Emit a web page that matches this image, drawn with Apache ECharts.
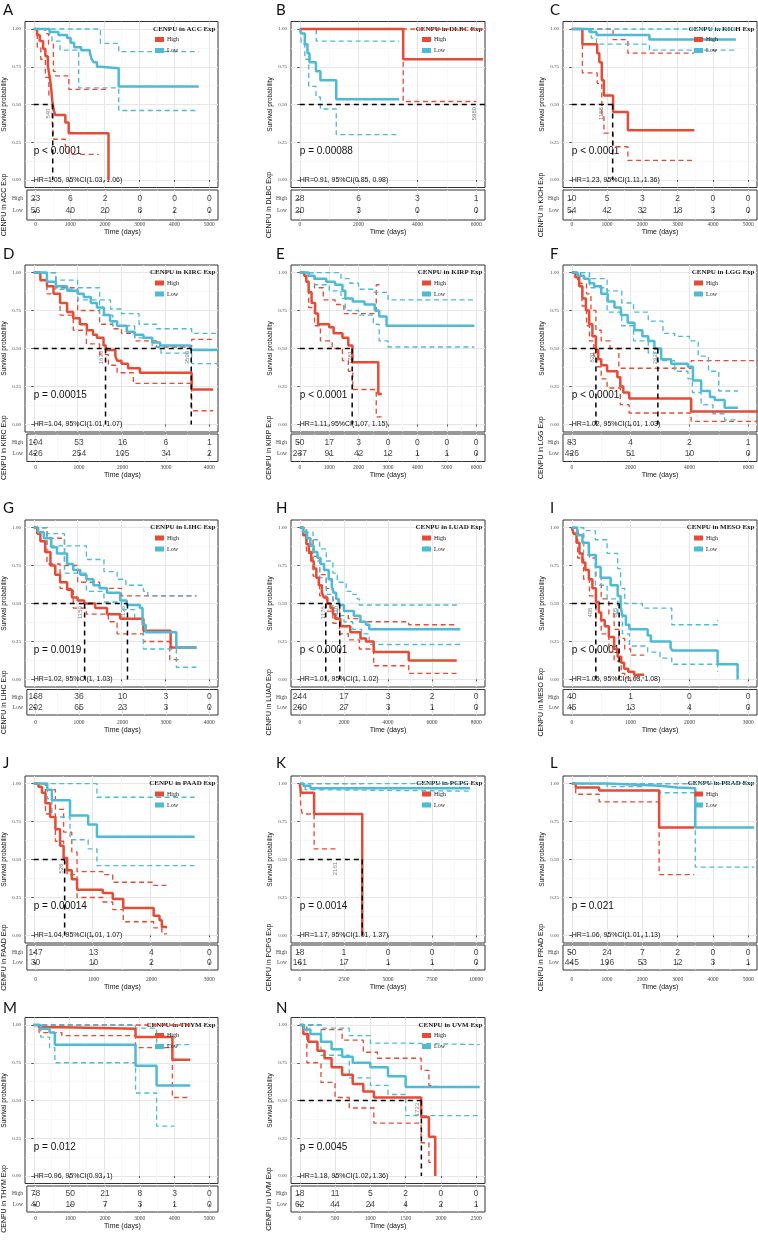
<!DOCTYPE html>
<html><head><meta charset="utf-8">
<script src="https://cdn.jsdelivr.net/npm/echarts@6/dist/echarts.min.js"></script>
<style>html,body{margin:0;padding:0;background:#fff}#c{width:758px;height:1251px}</style>
</head><body><div id="c"></div>
<script>
const RED = '#E64B35', BLUE = '#4DBBD5';

// ===== A: ACC =====
const ACC_ticks = [0,1000,2000,3000,4000,5000];
const ACC_high = [[0,1],[95,0.96],[170,0.92],[265,0.87],[330,0.82],[400,0.76],[455,0.68],[490,0.62],[530,0.52],[570,0.46],[615,0.43],[900,0.38],[995,0.31],[2130,0]];
const ACC_low = [[0,1],[450,0.98],[700,0.96],[950,0.94],[1050,0.91],[1150,0.88],[1350,0.86],[1600,0.84],[1650,0.8],[1700,0.78],[1800,0.75],[1900,0.74],[2420,0.62],[4700,0.62]];
const ACC_highUp = [[0,1],[330,0.97],[420,0.9],[560,0.72],[620,0.69],[1000,0.6],[2130,0.6]];
const ACC_highLo = [[0,1],[100,0.88],[200,0.8],[330,0.68],[430,0.55],[520,0.4],[570,0.27],[900,0.22],[1000,0.17],[1850,0.17]];
const ACC_lowUp = [[0,1],[1800,1],[1900,0.905],[2420,0.85],[4700,0.85]];
const ACC_lowLo = [[0,1],[450,0.95],[520,0.92],[750,0.86],[1280,0.61],[2420,0.46],[4700,0.46]];
const ACC_riskHigh = [23,6,2,0,0,0];
const ACC_riskLow = [56,40,20,8,2,0];
const ACC_medians = [540];
const ACC_medianLabels = ['540'];
const ACC_p = 'p < 0.0001';
const ACC_hr = 'HR=1.05, 95%CI(1.03, 1.06)';

// ===== B: DLBC =====
const DLBC_ticks = [0,2000,4000,6000];
const DLBC_high = [[0,1],[3517,0.8],[6230,0.8]];
const DLBC_low = [[0,1],[60,0.97],[170,0.9],[260,0.84],[330,0.78],[550,0.72],[700,0.66],[1240,0.535],[3380,0.535]];
const DLBC_highUp = [[0,1],[6230,1]];
const DLBC_highLo = [[0,1],[3517,0.52],[6000,0.52]];
const DLBC_lowUp = [[0,1],[560,0.92],[3380,0.92]];
const DLBC_lowLo = [[0,1],[60,0.9],[170,0.8],[300,0.62],[550,0.55],[700,0.47],[1240,0.3],[3380,0.3]];
const DLBC_riskHigh = [28,6,3,1];
const DLBC_riskLow = [20,3,0,0];
const DLBC_medians = [5980];
const DLBC_medianLabels = ['5980'];
const DLBC_p = 'p = 0.00088';
const DLBC_hr = 'HR=0.91, 95%CI(0.85, 0.98)';

// ===== C: KICH =====
const KICH_ticks = [0,1000,2000,3000,4000,5000];
const KICH_high = [[0,1],[300,0.9],[720,0.84],[780,0.78],[850,0.66],[910,0.56],[1170,0.45],[1590,0.33],[3475,0.33]];
const KICH_low = [[0,1],[500,0.98],[700,0.96],[2200,0.93],[4650,0.93]];
const KICH_highUp = [[0,1],[1170,0.93],[1590,0.84],[3475,0.84]];
const KICH_highLo = [[0,1],[300,0.71],[720,0.64],[850,0.42],[910,0.31],[1170,0.22],[1590,0.13],[3475,0.13]];
const KICH_lowUp = [[0,1],[4650,1]];
const KICH_lowLo = [[0,1],[550,0.94],[700,0.9],[2200,0.86],[4650,0.86]];
const KICH_riskHigh = [10,5,3,2,0,0];
const KICH_riskLow = [54,42,32,18,3,0];
const KICH_medians = [1158];
const KICH_medianLabels = ['1158'];
const KICH_p = 'p < 0.0001';
const KICH_hr = 'HR=1.23, 95%CI(1.11, 1.36)';

// ===== D: KIRC =====
const KIRC_ticks = [0,1000,2000,3000,4000];
const KIRC_high = [[0,1],[150,0.95],[300,0.91],[450,0.86],[600,0.8],[760,0.74],[900,0.7],[1050,0.66],[1210,0.62],[1350,0.59],[1440,0.57],[1590,0.52],[1640,0.49],[1860,0.45],[1900,0.42],[2000,0.4],[2150,0.37],[2420,0.34],[3600,0.23],[4090,0.23]];
const KIRC_low = [[0,1],[300,0.94],[500,0.91],[760,0.88],[1000,0.86],[1140,0.84],[1300,0.8],[1440,0.77],[1600,0.72],[1740,0.68],[1900,0.65],[2120,0.61],[2300,0.59],[2500,0.57],[2700,0.54],[2880,0.52],[3560,0.51],[3590,0.49],[4200,0.49]];
const KIRC_highUp = [[0,1],[500,0.9],[1000,0.75],[1500,0.66],[1800,0.63],[2000,0.6],[2300,0.55],[2800,0.51],[3600,0.56],[4090,0.56]];
const KIRC_highLo = [[0,1],[300,0.86],[600,0.72],[900,0.62],[1200,0.53],[1500,0.46],[1700,0.39],[1900,0.34],[2270,0.27],[3600,0.09],[4090,0.09]];
const KIRC_lowUp = [[0,1],[500,0.95],[1000,0.9],[1500,0.82],[1750,0.76],[2000,0.73],[2400,0.66],[2800,0.63],[3600,0.6],[4200,0.6]];
const KIRC_lowLo = [[0,1],[500,0.89],[1000,0.82],[1500,0.72],[1800,0.65],[2300,0.57],[2700,0.51],[2900,0.47],[3600,0.4],[4200,0.4]];
const KIRC_riskHigh = [104,53,16,6,1];
const KIRC_riskLow = [426,254,105,34,2];
const KIRC_medians = [1636,3590];
const KIRC_medianLabels = ['1636','3590'];
const KIRC_p = 'p = 0.00015';
const KIRC_hr = 'HR=1.04, 95%CI(1.01, 1.07)';

// ===== E: KIRP =====
const KIRP_ticks = [0,1000,2000,3000,4000,5000,6000];
const KIRP_high = [[0,1],[150,0.98],[220,0.94],[300,0.87],[400,0.8],[520,0.73],[620,0.66],[1000,0.64],[1150,0.6],[1450,0.57],[1650,0.52],[1790,0.41],[2670,0.2],[2790,0.2]];
const KIRP_low = [[0,1],[300,0.98],[500,0.96],[900,0.94],[1200,0.92],[1450,0.88],[1550,0.83],[1800,0.81],[2200,0.79],[2550,0.75],[2700,0.71],[2950,0.65],[5940,0.65]];
const KIRP_highUp = [[0,1],[500,0.9],[800,0.82],[1200,0.79],[1500,0.73],[2600,0.92],[2790,0.92]];
const KIRP_highLo = [[0,1],[300,0.77],[500,0.65],[700,0.55],[1100,0.5],[1450,0.42],[1650,0.35],[1800,0.23],[2600,0.05],[2790,0.05]];
const KIRP_lowUp = [[0,1],[800,1],[1400,0.96],[1700,0.93],[2000,0.89],[2500,0.87],[3000,0.82],[5940,0.82]];
const KIRP_lowLo = [[0,1],[500,0.92],[1000,0.88],[1400,0.83],[1550,0.75],[2000,0.72],[2500,0.66],[2700,0.55],[3000,0.51],[5940,0.51]];
const KIRP_riskHigh = [50,17,3,0,0,0,0];
const KIRP_riskLow = [237,91,42,12,1,1,0];
const KIRP_medians = [1781];
const KIRP_medianLabels = ['1781'];
const KIRP_p = 'p < 0.0001';
const KIRP_hr = 'HR=1.11, 95%CI(1.07, 1.15)';

// ===== F: LGG =====
const LGG_ticks = [0,2000,4000,6000];
const LGG_high = [[0,1],[120,0.97],[250,0.91],[360,0.83],[480,0.75],[590,0.66],[700,0.58],[820,0.49],[900,0.43],[1000,0.39],[1200,0.35],[1550,0.31],[1650,0.25],[1750,0.21],[1950,0.17],[4060,0.085],[6350,0.085]];
const LGG_low = [[0,1],[200,0.98],[420,0.96],[600,0.93],[760,0.91],[1000,0.86],[1220,0.81],[1450,0.77],[1670,0.72],[1900,0.67],[2130,0.62],[2400,0.58],[2600,0.55],[2810,0.5],[3040,0.43],[3380,0.4],[3950,0.38],[4120,0.29],[4400,0.22],[4700,0.18],[4860,0.16],[5200,0.11],[5650,0.11]];
const LGG_highUp = [[0,1],[300,0.96],[500,0.86],[650,0.75],[820,0.62],[1000,0.55],[1300,0.5],[1600,0.37],[4060,0.42],[6350,0.42]];
const LGG_highLo = [[0,1],[200,0.93],[350,0.78],[500,0.65],[600,0.55],[750,0.45],[850,0.38],[1000,0.3],[1200,0.24],[1650,0.13],[1950,0.075],[4060,0.02],[6350,0.02]];
const LGG_lowUp = [[0,1],[600,0.96],[1200,0.88],[1700,0.8],[2100,0.74],[2600,0.68],[3100,0.6],[3500,0.58],[4000,0.55],[4300,0.45],[4650,0.35],[5000,0.22],[5650,0.22]];
const LGG_lowLo = [[0,1],[600,0.9],[1200,0.74],[1700,0.65],[2100,0.55],[2600,0.47],[2900,0.42],[3500,0.35],[3950,0.3],[4100,0.21],[4400,0.13],[4800,0.07],[5200,0.03],[5650,0.03]];
const LGG_riskHigh = [83,4,2,1];
const LGG_riskLow = [426,51,10,0];
const LGG_medians = [820,2927];
const LGG_medianLabels = ['820','2927'];
const LGG_p = 'p < 0.0001';
const LGG_hr = 'HR=1.02, 95%CI(1.01, 1.03)';

// ===== G: LIHC =====
const LIHC_ticks = [0,1000,2000,3000,4000];
const LIHC_high = [[0,1],[80,0.96],[150,0.91],[260,0.84],[380,0.75],[490,0.69],[600,0.64],[760,0.59],[870,0.54],[1000,0.52],[1150,0.5],[1400,0.47],[1670,0.43],[1970,0.4],[2500,0.32],[3120,0.21],[3710,0.21]];
const LIHC_low = [[0,1],[100,0.97],[230,0.93],[400,0.87],[530,0.83],[760,0.76],[900,0.72],[1060,0.69],[1200,0.66],[1360,0.62],[1500,0.6],[1670,0.57],[1970,0.52],[2120,0.49],[2420,0.47],[2480,0.36],[2550,0.31],[3250,0.21],[3710,0.21]];
const LIHC_highUp = [[0,1],[300,0.93],[700,0.75],[1000,0.64],[1500,0.6],[2000,0.55],[2500,0.55],[3710,0.55]];
const LIHC_highLo = [[0,1],[300,0.76],[600,0.6],[900,0.47],[1200,0.43],[1700,0.38],[1900,0.3],[2200,0.3],[2500,0.25],[3100,0.13],[3300,0.13]];
const LIHC_lowUp = [[0,1],[300,0.96],[700,0.88],[1200,0.79],[1600,0.71],[1900,0.66],[2100,0.62],[2500,0.58],[2600,0.55],[3710,0.55]];
const LIHC_lowLo = [[0,1],[300,0.88],[700,0.7],[1200,0.58],[1600,0.51],[2000,0.46],[2300,0.4],[2500,0.2],[3250,0.08],[3710,0.08]];
const LIHC_riskHigh = [168,36,10,3,0];
const LIHC_riskLow = [202,65,23,3,0];
const LIHC_medians = [1159,2136];
const LIHC_medianLabels = ['1159','2136'];
const LIHC_p = 'p = 0.0019';
const LIHC_hr = 'HR=1.02, 95%CI(1, 1.03)';

// ===== H: LUAD =====
const LUAD_ticks = [0,2000,4000,6000,8000];
const LUAD_high = [[0,1],[150,0.95],[300,0.89],[410,0.84],[520,0.78],[630,0.73],[750,0.67],[860,0.62],[1000,0.57],[1090,0.54],[1250,0.5],[1390,0.47],[1500,0.43],[1610,0.4],[1840,0.35],[2290,0.31],[2750,0.27],[3000,0.25],[3350,0.18],[4940,0.125],[7120,0.125]];
const LUAD_low = [[0,1],[150,0.97],[330,0.93],[480,0.88],[630,0.84],[800,0.8],[940,0.76],[1100,0.72],[1310,0.66],[1450,0.61],[1540,0.57],[1650,0.53],[1770,0.49],[2000,0.45],[2450,0.42],[2750,0.38],[3000,0.36],[3150,0.33],[7280,0.33]];
const LUAD_highUp = [[0,1],[300,0.93],[600,0.81],[900,0.69],[1200,0.6],[1500,0.52],[1800,0.45],[2200,0.4],[2700,0.38],[4940,0.36],[7120,0.36]];
const LUAD_highLo = [[0,1],[300,0.83],[600,0.68],[900,0.55],[1200,0.45],[1500,0.37],[1800,0.3],[2200,0.26],[2700,0.2],[3350,0.09],[4940,0.04],[7120,0.04]];
const LUAD_lowUp = [[0,1],[300,0.97],[600,0.92],[900,0.86],[1200,0.78],[1500,0.7],[1700,0.64],[2100,0.58],[2400,0.56],[2600,0.53],[2700,0.49],[7280,0.49]];
const LUAD_lowLo = [[0,1],[300,0.89],[600,0.78],[900,0.67],[1200,0.56],[1500,0.47],[1700,0.42],[2000,0.38],[2400,0.33],[2800,0.3],[3150,0.23],[7280,0.23]];
const LUAD_riskHigh = [244,17,3,2,0];
const LUAD_riskLow = [260,27,3,1,0];
const LUAD_medians = [1176,1810];
const LUAD_medianLabels = ['1176','1810'];
const LUAD_p = 'p < 0.0001';
const LUAD_hr = 'HR=1.01, 95%CI(1, 1.02)';

// ===== I: MESO =====
const MESO_ticks = [0,1000,2000,3000];
const MESO_high = [[0,1],[30,0.96],[80,0.9],[130,0.83],[180,0.77],[230,0.72],[290,0.66],[350,0.6],[410,0.51],[460,0.44],[500,0.39],[560,0.35],[630,0.28],[720,0.2],[780,0.15],[840,0.11],[890,0.07],[960,0.05],[1060,0.03],[1230,0.03]];
const MESO_low = [[0,1],[90,0.95],[180,0.9],[290,0.82],[410,0.74],[490,0.67],[660,0.62],[780,0.55],[830,0.48],[860,0.42],[920,0.36],[980,0.33],[1290,0.29],[1345,0.25],[1680,0.21],[1710,0.19],[2480,0.1],[2820,0]];
const MESO_highUp = [[0,1],[100,0.96],[200,0.88],[300,0.8],[410,0.68],[500,0.53],[630,0.43],[720,0.33],[800,0.27],[900,0.2],[1000,0.16],[1230,0.16]];
const MESO_highLo = [[0,1],[100,0.8],[200,0.66],[300,0.55],[410,0.4],[500,0.3],[630,0.18],[720,0.12],[840,0.04],[900,0.01],[1230,0.01]];
const MESO_lowUp = [[0,1],[200,0.98],[400,0.92],[600,0.83],[780,0.73],[830,0.6],[900,0.5],[1200,0.47],[1700,0.36],[2480,0.39],[2490,0.39]];
const MESO_lowLo = [[0,1],[200,0.82],[400,0.62],[600,0.53],[780,0.43],[860,0.3],[980,0.22],[1290,0.18],[1500,0.14],[1700,0.1],[2480,0.05],[2490,0.05]];
const MESO_riskHigh = [40,1,0,0];
const MESO_riskLow = [45,13,4,0];
const MESO_medians = [408,805];
const MESO_medianLabels = ['408','805'];
const MESO_p = 'p < 0.0001';
const MESO_hr = 'HR=1.05, 95%CI(1.03, 1.08)';

// ===== J: PAAD =====
const PAAD_ticks = [0,1000,2000,3000];
const PAAD_high = [[0,1],[80,0.98],[140,0.94],[200,0.87],[280,0.78],[370,0.7],[450,0.59],[510,0.51],[570,0.43],[650,0.37],[740,0.3],[1180,0.28],[1350,0.24],[1530,0.18],[2050,0.13],[2150,0.1],[2190,0.055],[2280,0.055]];
const PAAD_low = [[0,1],[230,0.96],[310,0.89],[620,0.79],[930,0.73],[1080,0.65],[2750,0.65]];
const PAAD_highUp = [[0,1],[200,0.96],[370,0.83],[510,0.68],[650,0.55],[740,0.42],[1180,0.4],[1350,0.35],[2050,0.33],[2280,0.33]];
const PAAD_highLo = [[0,1],[200,0.8],[370,0.62],[510,0.48],[570,0.4],[740,0.25],[1180,0.22],[1350,0.17],[1530,0.09],[2050,0.05],[2190,0.01],[2280,0.01]];
const PAAD_lowUp = [[0,1],[1080,0.91],[2750,0.91]];
const PAAD_lowLo = [[0,1],[230,0.9],[310,0.78],[620,0.63],[930,0.57],[1080,0.46],[2750,0.46]];
const PAAD_riskHigh = [147,13,4,0];
const PAAD_riskLow = [30,10,2,0];
const PAAD_medians = [528];
const PAAD_medianLabels = ['528'];
const PAAD_p = 'p = 0.00014';
const PAAD_hr = 'HR=1.04, 95%CI(1.01, 1.07)';

// ===== K: PCPG =====
const PCPG_ticks = [0,2500,5000,7500,10000];
const PCPG_high = [[0,1],[60,0.94],[810,0.8],[3540,0]];
const PCPG_low = [[0,1],[200,0.985],[600,0.97],[9660,0.97]];
const PCPG_highUp = [[0,1],[3540,1]];
const PCPG_highLo = [[0,1],[60,0.84],[150,0.8],[810,0.57],[2200,0.57]];
const PCPG_lowUp = [[0,1],[9660,1]];
const PCPG_lowLo = [[0,1],[300,0.96],[600,0.95],[9660,0.95]];
const PCPG_riskHigh = [18,1,0,0,0];
const PCPG_riskLow = [161,17,1,1,0];
const PCPG_medians = [3540];
const PCPG_medianLabels = ['2161'];
const PCPG_p = 'p = 0.0014';
const PCPG_hr = 'HR=1.17, 95%CI(1.01, 1.37)';

// ===== L: PRAD =====
const PRAD_ticks = [0,1000,2000,3000,4000,5000];
const PRAD_high = [[0,1],[110,0.975],[775,0.955],[2475,0.71],[3470,0.71]];
const PRAD_low = [[0,1],[1000,0.995],[1500,0.985],[2500,0.975],[3000,0.97],[3500,0.71],[5170,0.71]];
const PRAD_highUp = [[0,1],[3470,1]];
const PRAD_highLo = [[0,1],[110,0.93],[775,0.88],[2475,0.4],[3470,0.4]];
const PRAD_lowUp = [[0,1],[5170,1]];
const PRAD_lowLo = [[0,1],[1000,0.98],[2000,0.955],[2500,0.94],[3500,0.45],[5170,0.45]];
const PRAD_riskHigh = [50,24,7,2,0,0];
const PRAD_riskLow = [445,196,53,12,3,1];
const PRAD_medians = [];
const PRAD_medianLabels = [];
const PRAD_p = 'p = 0.021';
const PRAD_hr = 'HR=1.06, 95%CI(1.01, 1.13)';

// ===== M: THYM =====
const THYM_ticks = [0,1000,2000,3000,4000,5000];
const THYM_high = [[0,1],[150,0.985],[800,0.975],[2900,0.92],[3950,0.77],[4460,0.77]];
const THYM_low = [[0,1],[200,0.975],[450,0.95],[600,0.87],[2900,0.73],[3500,0.6],[4460,0.6]];
const THYM_highUp = [[0,1],[4460,1]];
const THYM_highLo = [[0,1],[150,0.95],[800,0.93],[2900,0.85],[3950,0.52],[4460,0.52]];
const THYM_lowUp = [[0,1],[2900,0.98],[3500,0.87],[4460,0.87]];
const THYM_lowLo = [[0,1],[200,0.92],[450,0.85],[600,0.75],[2900,0.55],[3500,0.33],[4000,0.33]];
const THYM_riskHigh = [78,50,21,8,3,0];
const THYM_riskLow = [40,19,7,3,1,0];
const THYM_medians = [];
const THYM_medianLabels = [];
const THYM_p = 'p = 0.012';
const THYM_hr = 'HR=0.96, 95%CI(0.93, 1)';

// ===== N: UVM =====
const UVM_ticks = [0,500,1000,1500,2000,2500];
const UVM_high = [[0,1],[50,0.94],[120,0.89],[250,0.83],[350,0.78],[450,0.72],[600,0.67],[750,0.61],[900,0.56],[1050,0.52],[1720,0.39],[1830,0.26],[1920,0]];
const UVM_low = [[0,1],[60,0.97],[150,0.94],[300,0.89],[450,0.84],[600,0.79],[750,0.75],[1000,0.72],[1250,0.66],[1500,0.59],[2550,0.59]];
const UVM_highUp = [[0,1],[300,0.97],[600,0.9],[900,0.82],[1100,0.78],[1720,0.7],[1830,0.6],[1920,0.6]];
const UVM_highLo = [[0,1],[100,0.75],[300,0.62],[500,0.52],[700,0.45],[1050,0.35],[1720,0.22],[1830,0.09],[1920,0.09]];
const UVM_lowUp = [[0,1],[300,0.98],[700,0.93],[1000,0.88],[1500,0.87],[2550,0.87]];
const UVM_lowLo = [[0,1],[300,0.8],[700,0.65],[1000,0.6],[1250,0.54],[1500,0.4],[2550,0.4]];
const UVM_riskHigh = [18,11,5,2,0,0];
const UVM_riskLow = [62,44,24,4,2,1];
const UVM_medians = [1723];
const UVM_medianLabels = ['1723'];
const UVM_p = 'p = 0.0045';
const UVM_hr = 'HR=1.18, 95%CI(1.02, 1.36)';

const Y_TICKS = [0,0.25,0.5,0.75,1];
const Y_MINOR = [0.125,0.375,0.625,0.875];

function mk(letter, code, ticks, high, low, highUp, highLo, lowUp, lowLo, riskHigh, riskLow, medians, medianLabels, p, hr) {
  return {letter, code, ticks, high, low, highUp, highLo, lowUp, lowLo, riskHigh, riskLow, medians, medianLabels, p, hr};
}
const panels = [
  mk('A','ACC',ACC_ticks,ACC_high,ACC_low,ACC_highUp,ACC_highLo,ACC_lowUp,ACC_lowLo,ACC_riskHigh,ACC_riskLow,ACC_medians,ACC_medianLabels,ACC_p,ACC_hr),
  mk('B','DLBC',DLBC_ticks,DLBC_high,DLBC_low,DLBC_highUp,DLBC_highLo,DLBC_lowUp,DLBC_lowLo,DLBC_riskHigh,DLBC_riskLow,DLBC_medians,DLBC_medianLabels,DLBC_p,DLBC_hr),
  mk('C','KICH',KICH_ticks,KICH_high,KICH_low,KICH_highUp,KICH_highLo,KICH_lowUp,KICH_lowLo,KICH_riskHigh,KICH_riskLow,KICH_medians,KICH_medianLabels,KICH_p,KICH_hr),
  mk('D','KIRC',KIRC_ticks,KIRC_high,KIRC_low,KIRC_highUp,KIRC_highLo,KIRC_lowUp,KIRC_lowLo,KIRC_riskHigh,KIRC_riskLow,KIRC_medians,KIRC_medianLabels,KIRC_p,KIRC_hr),
  mk('E','KIRP',KIRP_ticks,KIRP_high,KIRP_low,KIRP_highUp,KIRP_highLo,KIRP_lowUp,KIRP_lowLo,KIRP_riskHigh,KIRP_riskLow,KIRP_medians,KIRP_medianLabels,KIRP_p,KIRP_hr),
  mk('F','LGG',LGG_ticks,LGG_high,LGG_low,LGG_highUp,LGG_highLo,LGG_lowUp,LGG_lowLo,LGG_riskHigh,LGG_riskLow,LGG_medians,LGG_medianLabels,LGG_p,LGG_hr),
  mk('G','LIHC',LIHC_ticks,LIHC_high,LIHC_low,LIHC_highUp,LIHC_highLo,LIHC_lowUp,LIHC_lowLo,LIHC_riskHigh,LIHC_riskLow,LIHC_medians,LIHC_medianLabels,LIHC_p,LIHC_hr),
  mk('H','LUAD',LUAD_ticks,LUAD_high,LUAD_low,LUAD_highUp,LUAD_highLo,LUAD_lowUp,LUAD_lowLo,LUAD_riskHigh,LUAD_riskLow,LUAD_medians,LUAD_medianLabels,LUAD_p,LUAD_hr),
  mk('I','MESO',MESO_ticks,MESO_high,MESO_low,MESO_highUp,MESO_highLo,MESO_lowUp,MESO_lowLo,MESO_riskHigh,MESO_riskLow,MESO_medians,MESO_medianLabels,MESO_p,MESO_hr),
  mk('J','PAAD',PAAD_ticks,PAAD_high,PAAD_low,PAAD_highUp,PAAD_highLo,PAAD_lowUp,PAAD_lowLo,PAAD_riskHigh,PAAD_riskLow,PAAD_medians,PAAD_medianLabels,PAAD_p,PAAD_hr),
  mk('K','PCPG',PCPG_ticks,PCPG_high,PCPG_low,PCPG_highUp,PCPG_highLo,PCPG_lowUp,PCPG_lowLo,PCPG_riskHigh,PCPG_riskLow,PCPG_medians,PCPG_medianLabels,PCPG_p,PCPG_hr),
  mk('L','PRAD',PRAD_ticks,PRAD_high,PRAD_low,PRAD_highUp,PRAD_highLo,PRAD_lowUp,PRAD_lowLo,PRAD_riskHigh,PRAD_riskLow,PRAD_medians,PRAD_medianLabels,PRAD_p,PRAD_hr),
  mk('M','THYM',THYM_ticks,THYM_high,THYM_low,THYM_highUp,THYM_highLo,THYM_lowUp,THYM_lowLo,THYM_riskHigh,THYM_riskLow,THYM_medians,THYM_medianLabels,THYM_p,THYM_hr),
  mk('N','UVM',UVM_ticks,UVM_high,UVM_low,UVM_highUp,UVM_highLo,UVM_lowUp,UVM_lowLo,UVM_riskHigh,UVM_riskLow,UVM_medians,UVM_medianLabels,UVM_p,UVM_hr)
];

// ---- layout (pixels) ----
const cols = [{L:25,R:218,lx:3},{L:291,R:485,lx:276},{L:563,R:757,lx:550}];
const rows = [
  {T:21.5, B:187.5, tT:190,   tB:220,  lm:1.5, ng:6.5, ly:10},
  {T:265,  B:432,   tT:434,   tB:461.5,lm:3,   ng:10,  ly:254},
  {T:520,  B:687,   tT:689.5, tB:715,  lm:4.5, ng:9.5, ly:508},
  {T:776,  B:943,   tT:945,   tB:970,  lm:6.5, ng:13.5,ly:763},
  {T:1017.5,B:1183.5,tT:1186, tB:1212, lm:3.5, ng:10.5,ly:1008}
];
const layout = [
  {c:0,r:0,dx:[-4]}, {c:1,r:0,dx:[-1],noV:true,hFull:true}, {c:2,r:0,dx:[-11]},
  {c:0,r:1,dx:[-4,-4]}, {c:1,r:1,dx:[-2]}, {c:2,r:1,dx:[-4,-3]},
  {c:0,r:2,dx:[-4,-4]}, {c:1,r:2,dx:[-2,-3]}, {c:2,r:2,dx:[-5,-4]},
  {c:0,r:3,dx:[-3]}, {c:1,r:3,dx:[-27]}, {c:2,r:3,dx:[]},
  {c:0,r:4,dx:[]}, {c:1,r:4,dx:[-4]}
];

const SERIF = 'Liberation Serif', SANS = 'Liberation Sans';
const MAJ = {color:'#E6E6E6', width:1};
const MIN = {color:'#F3F3F3', width:0.6};

const grid=[], xAxis=[], yAxis=[], series=[], legend=[];
const refs=[];
panels.forEach((p,i)=>{
  const lay=layout[i], c=cols[lay.c], r=rows[lay.r];
  const T=p.ticks[p.ticks.length-1], xmin=-0.05*T, xmax=1.05*T;
  const minorX=p.ticks.slice(1).map((t,k)=>(p.ticks[k]+t)/2);
  const gP=grid.length, gT=gP+1;
  grid.push({left:c.L, top:r.T, width:c.R-c.L, height:r.B-r.T, show:true, borderColor:'#333', borderWidth:1, backgroundColor:'#fff'});
  grid.push({left:c.L, top:r.tT, width:c.R-c.L, height:r.tB-r.tT, show:true, borderColor:'#333', borderWidth:1, backgroundColor:'#fff'});
  const xP=xAxis.length;
  xAxis.push({type:'value', gridIndex:gP, min:xmin, max:xmax, position:'bottom',
    axisLine:{show:false}, axisLabel:{show:false},
    axisTick:{show:true, length:2, customValues:p.ticks, lineStyle:{color:'#333', width:0.8}},
    splitLine:{show:true, lineStyle:MAJ}});
  xAxis.push({type:'value', gridIndex:gP, min:xmin, max:xmax, position:'top',
    axisLine:{show:false}, axisLabel:{show:false},
    axisTick:{show:false, customValues:minorX}, splitLine:{show:true, lineStyle:MIN}});
  const xT=xAxis.length;
  xAxis.push({type:'value', gridIndex:gT, min:xmin, max:xmax, position:'bottom',
    axisLine:{show:false},
    axisLabel:{show:true, customValues:p.ticks, fontFamily:SERIF, fontSize:5.5, color:'#444', margin:r.lm, formatter:v=>String(v)},
    axisTick:{show:true, length:2, customValues:p.ticks, lineStyle:{color:'#333', width:0.8}},
    splitLine:{show:true, lineStyle:MAJ},
    name:'Time (days)', nameLocation:'middle', nameGap:r.ng, nameTextStyle:{fontFamily:SANS, fontSize:7, color:'#111'}});
  xAxis.push({type:'value', gridIndex:gT, min:xmin, max:xmax, position:'top',
    axisLine:{show:false}, axisLabel:{show:false},
    axisTick:{show:false, customValues:minorX}, splitLine:{show:true, lineStyle:MIN}});
  const yP=yAxis.length;
  yAxis.push({type:'value', gridIndex:gP, min:-0.05, max:1.05, position:'left',
    axisLine:{show:false},
    axisLabel:{show:true, customValues:Y_TICKS, fontFamily:SERIF, fontSize:5, color:'#444', margin:4, formatter:v=>v.toFixed(2)},
    axisTick:{show:true, length:2.5, customValues:Y_TICKS, lineStyle:{color:'#333', width:0.8}},
    splitLine:{show:true, lineStyle:MAJ},
    name:'Survival probability', nameLocation:'middle', nameGap:17, nameTextStyle:{fontFamily:SANS, fontSize:6.5, color:'#111'}});
  yAxis.push({type:'value', gridIndex:gP, min:-0.05, max:1.05, position:'right',
    axisLine:{show:false}, axisLabel:{show:false},
    axisTick:{show:false, customValues:Y_MINOR}, splitLine:{show:true, lineStyle:MIN}});
  const yT=yAxis.length;
  yAxis.push({type:'value', gridIndex:gT, min:-0.75, max:1.75, position:'left',
    axisLine:{show:false},
    axisLabel:{show:true, customValues:[0,1], fontFamily:SERIF, fontSize:5.5, color:'#444', margin:4, formatter:v=>v===1?'High':'Low'},
    axisTick:{show:true, length:2.5, customValues:[0,1], lineStyle:{color:'#333', width:0.8}},
    splitLine:{show:false},
    name:'CENPU in '+p.code+' Exp', nameLocation:'middle', nameGap:17, nameTextStyle:{fontFamily:SANS, fontSize:7, color:'#111'}});

  const base={xAxisIndex:xP, yAxisIndex:yP, silent:true, animation:false};
  const ci=(d,col)=>Object.assign({type:'line', name:'ci', data:d, step:'end', symbol:'none', showSymbol:false, z:2,
      lineStyle:{color:col, width:1.35, type:[5,3.5]}, itemStyle:{color:col}}, base);
  series.push(ci(p.highUp,RED), ci(p.highLo,RED), ci(p.lowUp,BLUE), ci(p.lowLo,BLUE));
  const cur=(d,col,name)=>Object.assign({type:'line', name, data:d, step:'end', symbol:'none', showSymbol:false, z:3,
      lineStyle:{color:col, width:2.5}, itemStyle:{color:col}}, base);
  series.push(cur(p.high,RED,'High'), cur(p.low,BLUE,'Low'));
  if (p.medians.length) {
    const hEnd = lay.hFull ? xmax : Math.max(...p.medians);
    const med=(d)=>Object.assign({type:'line', name:'median', data:d, symbol:'none', showSymbol:false, z:5,
      lineStyle:{color:'#000', width:1.5, type:[5,4]}}, base);
    series.push(med([[0,0.5],[hEnd,0.5]]));
    if (!lay.noV) p.medians.forEach(m=>series.push(med([[m,0.5],[m,0]])));
  }
  const risk=(arr,row)=>({type:'scatter', name:'risk', xAxisIndex:xT, yAxisIndex:yT, silent:true, animation:false,
      symbolSize:1, itemStyle:{color:'rgba(0,0,0,0)'},
      data:arr.map((n,k)=>[p.ticks[k], row, n]),
      label:{show:true, position:'inside', formatter:d=>String(d.value[2]), fontFamily:SANS, fontSize:8.5, color:'#111'}});
  series.push(risk(p.riskHigh,1), risk(p.riskLow,0));

  legend.push({data:['High','Low'], orient:'vertical', left:c.R-63, top:r.T+14.5, padding:0, itemGap:4,
    itemWidth:9, itemHeight:5, icon:'rect', selectedMode:false,
    textStyle:{fontFamily:SERIF, fontSize:6, color:'#222', lineHeight:7, padding:[0,0,0,-2]}});
  refs.push({xP, yP, c, r, lay});
});

const chart = echarts.init(document.getElementById('c'), null, {renderer:'canvas'});
chart.setOption({animation:false, backgroundColor:'#fff', grid, xAxis, yAxis, series, legend});

const graphic=[];
panels.forEach((p,i)=>{
  const {xP,yP,c,r,lay}=refs[i];
  const px=v=>chart.convertToPixel({xAxisIndex:xP}, v);
  const py=v=>chart.convertToPixel({yAxisIndex:yP}, v);
  graphic.push({type:'text', x:c.lx, y:r.ly, style:{text:p.letter, font:'15px Lato', fill:'#111', align:'left', verticalAlign:'middle'}});
  graphic.push({type:'text', x:c.R-2.5, y:py(1), style:{text:'CENPU in '+p.code+' Exp', font:'bold 7px "Liberation Serif"', fill:'#222', align:'right', verticalAlign:'middle'}});
  graphic.push({type:'text', x:px(0), y:py(0.19), style:{text:p.p, font:'10px "Liberation Sans"', fill:'#111', align:'left', verticalAlign:'middle'}});
  graphic.push({type:'text', x:px(0), y:py(0), style:{text:p.hr, font:'7px "Liberation Sans"', fill:'#111', align:'left', verticalAlign:'middle'}});
  p.medians.forEach((m,k)=>{
    graphic.push({type:'text', x:px(m)+(lay.dx[k]||-4), y:py(0.44), rotation:Math.PI/2,
      style:{text:p.medianLabels[k], font:'6px "Liberation Sans"', fill:'#808080', align:'center', verticalAlign:'middle'}});
  });
});
chart.setOption({graphic});
</script></body></html>
